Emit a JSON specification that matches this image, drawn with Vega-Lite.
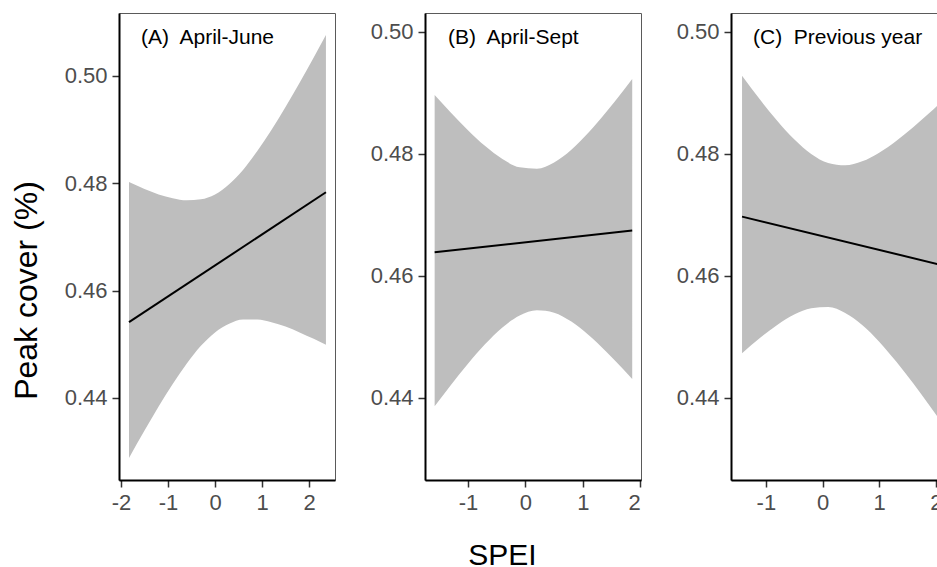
{
  "$schema": "https://vega.github.io/schema/vega-lite/v6.json",
  "background": "white",
  "padding": {"left": 9, "top": 12, "right": 0, "bottom": 0},
  "spacing": 90,
  "bounds": "flush",
  "config": {
    "font": "Liberation Sans",
    "view": {"stroke": "#5a5a5a", "strokeWidth": 1},
    "axis": {
      "grid": false,
      "domainColor": "black",
      "domainWidth": 2,
      "tickColor": "#333333",
      "tickWidth": 1.5,
      "tickSize": 7,
      "labelFont": "Liberation Sans",
      "labelFontSize": 22,
      "labelColor": "#4D4D4D",
      "labelPadding": 5,
      "titleFont": "Liberation Sans",
      "titleFontWeight": "normal",
      "titleColor": "black"
    }
  },
  "datasets": {
    "band": [
      {"p": "A", "x": -1.83, "lo": 0.4288, "hi": 0.4802},
      {"p": "A", "x": -1.5, "lo": 0.4339, "hi": 0.4789},
      {"p": "A", "x": -1.2, "lo": 0.4384, "hi": 0.4779},
      {"p": "A", "x": -0.9, "lo": 0.4426, "hi": 0.4772},
      {"p": "A", "x": -0.6, "lo": 0.4464, "hi": 0.4768},
      {"p": "A", "x": -0.3, "lo": 0.4497, "hi": 0.477},
      {"p": "A", "x": 0.0, "lo": 0.4522, "hi": 0.4779},
      {"p": "A", "x": 0.3, "lo": 0.4538, "hi": 0.4798},
      {"p": "A", "x": 0.6, "lo": 0.4546, "hi": 0.4825},
      {"p": "A", "x": 0.9, "lo": 0.4546, "hi": 0.486},
      {"p": "A", "x": 1.2, "lo": 0.4541, "hi": 0.4899},
      {"p": "A", "x": 1.5, "lo": 0.4533, "hi": 0.4942},
      {"p": "A", "x": 1.8, "lo": 0.4522, "hi": 0.4987},
      {"p": "A", "x": 2.1, "lo": 0.451, "hi": 0.5034},
      {"p": "A", "x": 2.36, "lo": 0.4499, "hi": 0.5076},
      {"p": "B", "x": -1.58, "lo": 0.43859, "hi": 0.48965},
      {"p": "B", "x": -1.3, "lo": 0.44204, "hi": 0.48678},
      {"p": "B", "x": -1.0, "lo": 0.44556, "hi": 0.48388},
      {"p": "B", "x": -0.7, "lo": 0.44879, "hi": 0.48127},
      {"p": "B", "x": -0.4, "lo": 0.45153, "hi": 0.47915},
      {"p": "B", "x": -0.1, "lo": 0.4535, "hi": 0.4778},
      {"p": "B", "x": 0.2, "lo": 0.45435, "hi": 0.47757},
      {"p": "B", "x": 0.5, "lo": 0.45395, "hi": 0.47859},
      {"p": "B", "x": 0.8, "lo": 0.45248, "hi": 0.48068},
      {"p": "B", "x": 1.1, "lo": 0.45028, "hi": 0.4835},
      {"p": "B", "x": 1.4, "lo": 0.44762, "hi": 0.48678},
      {"p": "B", "x": 1.7, "lo": 0.44469, "hi": 0.49031},
      {"p": "B", "x": 1.86, "lo": 0.44305, "hi": 0.49229},
      {"p": "C", "x": -1.42, "lo": 0.44728, "hi": 0.4928},
      {"p": "C", "x": -1.1, "lo": 0.44982, "hi": 0.48886},
      {"p": "C", "x": -0.8, "lo": 0.45192, "hi": 0.48542},
      {"p": "C", "x": -0.5, "lo": 0.45363, "hi": 0.48239},
      {"p": "C", "x": -0.2, "lo": 0.45469, "hi": 0.47999},
      {"p": "C", "x": 0.1, "lo": 0.45486, "hi": 0.4785},
      {"p": "C", "x": 0.4, "lo": 0.45391, "hi": 0.47811},
      {"p": "C", "x": 0.7, "lo": 0.45193, "hi": 0.47877},
      {"p": "C", "x": 1.0, "lo": 0.44919, "hi": 0.48019},
      {"p": "C", "x": 1.3, "lo": 0.44592, "hi": 0.48212},
      {"p": "C", "x": 1.6, "lo": 0.44235, "hi": 0.48437},
      {"p": "C", "x": 1.9, "lo": 0.43856, "hi": 0.48682},
      {"p": "C", "x": 2.07, "lo": 0.43636, "hi": 0.48828}
    ],
    "fit": [
      {"p": "A", "x": -1.83, "y": 0.4541},
      {"p": "A", "x": 2.36, "y": 0.4783},
      {"p": "B", "x": -1.58, "y": 0.46387},
      {"p": "B", "x": 1.86, "y": 0.46742},
      {"p": "C", "x": -1.42, "y": 0.4697},
      {"p": "C", "x": 2.07, "y": 0.46183}
    ]
  },
  "hconcat": [
    {
      "width": 216,
      "height": 467,
      "title": {"text": "(A)\u00a0 April-June", "anchor": "start", "frame": "group", "orient": "top", "dx": 22, "offset": -52, "baseline": "alphabetic", "fontSize": 21, "fontWeight": "normal", "font": "Liberation Sans", "color": "black"},
      "encoding": {
        "x": {"field": "x", "type": "quantitative", "title": null,
          "scale": {"domain": [-2.043, 2.553], "nice": false, "zero": false},
          "axis": {"values": [-2, -1, 0, 1, 2], "title": null, "labelExpr": "replace(datum.label, '\u2212', '-')"}}
      },
      "layer": [
        {
          "data": {"name": "band"},
          "transform": [{"filter": "datum.p === 'A'"}],
          "mark": {"type": "area", "color": "#BEBEBE", "opacity": 1, "interpolate": "monotone"},
          "encoding": {
            "y": {"field": "lo", "type": "quantitative", "title": "Peak cover (%)",
              "scale": {"domain": [0.4247, 0.5117], "nice": false, "zero": false},
              "axis": {"values": [0.44, 0.46, 0.48, 0.5], "format": ".2f", "title": "Peak cover (%)", "titleFontSize": 32, "titleAngle": 270, "titleX": -108, "titleY": 277, "titleBaseline": "top", "titleAlign": "center"}},
            "y2": {"field": "hi"}
          }
        },
        {
          "data": {"name": "fit"},
          "transform": [{"filter": "datum.p === 'A'"}],
          "mark": {"type": "line", "color": "black", "strokeWidth": 2},
          "encoding": {
            "y": {"field": "y", "type": "quantitative", "title": "Peak cover (%)"}
          }
        }
      ]
    },
    {
      "width": 216,
      "height": 467,
      "title": {"text": "(B)\u00a0 April-Sept", "anchor": "start", "frame": "group", "orient": "top", "dx": 23, "offset": -52, "baseline": "alphabetic", "fontSize": 21, "fontWeight": "normal", "font": "Liberation Sans", "color": "black"},
      "encoding": {
        "x": {"field": "x", "type": "quantitative", "title": "SPEI",
          "scale": {"domain": [-1.748, 2.013], "nice": false, "zero": false},
          "axis": {"values": [-1, 0, 1, 2], "labelExpr": "replace(datum.label, '\u2212', '-')", "title": "SPEI", "titleFontSize": 30, "titleX": 77, "titleY": 84, "titleBaseline": "alphabetic", "titleAlign": "center"}}
      },
      "layer": [
        {
          "data": {"name": "band"},
          "transform": [{"filter": "datum.p === 'B'"}],
          "mark": {"type": "area", "color": "#BEBEBE", "opacity": 1, "interpolate": "monotone"},
          "encoding": {
            "y": {"field": "lo", "type": "quantitative", "title": null,
              "scale": {"domain": [0.4265, 0.5031], "nice": false, "zero": false},
              "axis": {"values": [0.44, 0.46, 0.48, 0.5], "format": ".2f", "title": null}},
            "y2": {"field": "hi"}
          }
        },
        {
          "data": {"name": "fit"},
          "transform": [{"filter": "datum.p === 'B'"}],
          "mark": {"type": "line", "color": "black", "strokeWidth": 2},
          "encoding": {
            "y": {"field": "y", "type": "quantitative", "title": null}
          }
        }
      ]
    },
    {
      "width": 216,
      "height": 467,
      "title": {"text": "(C)\u00a0 Previous year", "anchor": "start", "frame": "group", "orient": "top", "dx": 22, "offset": -52, "baseline": "alphabetic", "fontSize": 21, "fontWeight": "normal", "font": "Liberation Sans", "color": "black"},
      "encoding": {
        "x": {"field": "x", "type": "quantitative", "title": null,
          "scale": {"domain": [-1.615, 2.197], "nice": false, "zero": false},
          "axis": {"values": [-1, 0, 1, 2], "labelExpr": "replace(datum.label, '\u2212', '-')", "title": null}}
      },
      "layer": [
        {
          "data": {"name": "band"},
          "transform": [{"filter": "datum.p === 'C'"}],
          "mark": {"type": "area", "color": "#BEBEBE", "opacity": 1, "interpolate": "monotone"},
          "encoding": {
            "y": {"field": "lo", "type": "quantitative", "title": null,
              "scale": {"domain": [0.4265, 0.5031], "nice": false, "zero": false},
              "axis": {"values": [0.44, 0.46, 0.48, 0.5], "format": ".2f", "title": null}},
            "y2": {"field": "hi"}
          }
        },
        {
          "data": {"name": "fit"},
          "transform": [{"filter": "datum.p === 'C'"}],
          "mark": {"type": "line", "color": "black", "strokeWidth": 2},
          "encoding": {
            "y": {"field": "y", "type": "quantitative", "title": null}
          }
        }
      ]
    }
  ]
}
